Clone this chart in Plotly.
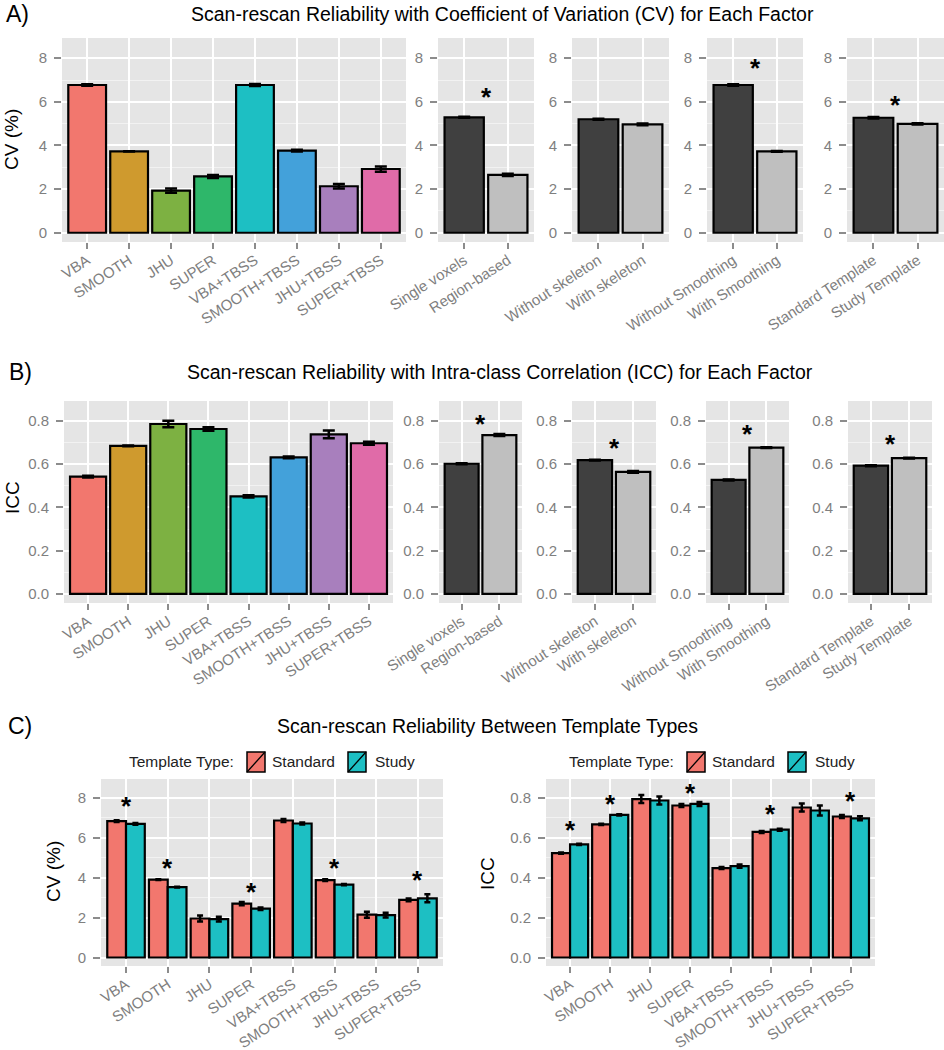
import plotly.graph_objects as go

# ---------------- data ----------------
methods = ["VBA", "SMOOTH", "JHU", "SUPER", "VBA+TBSS", "SMOOTH+TBSS", "JHU+TBSS", "SUPER+TBSS"]
method_colors = ["#F2776E", "#CF9A2E", "#7DB142", "#2EB76A", "#1DBFC3", "#43A1DA", "#A87FBD", "#E06BA8"]

factor_names = [["Single voxels", "Region-based"],
                ["Without skeleton", "With skeleton"],
                ["Without Smoothing", "With Smoothing"],
                ["Standard Template", "Study Template"]]
factor_colors = ["#404040", "#BFBFBF"]

# Panel A: CV (%) per method / factor
cv_method = [6.77, 3.73, 1.93, 2.58, 6.77, 3.76, 2.13, 2.92]
cv_method_err = [0.03, 0.01, 0.10, 0.07, 0.05, 0.04, 0.10, 0.12]
cv_factor = [[5.29, 2.65], [5.20, 4.97], [6.77, 3.73], [5.27, 4.99]]
cv_factor_err = [[0.02, 0.05], [0.02, 0.04], [0.03, 0.02], [0.03, 0.03]]
cv_factor_sig = [6.39, None, 7.74, 6.05]

# Panel B: ICC per method / factor
icc_method = [0.542, 0.685, 0.786, 0.763, 0.451, 0.632, 0.738, 0.697]
icc_method_err = [0.004, 0.002, 0.015, 0.008, 0.005, 0.004, 0.018, 0.007]
icc_factor = [[0.602, 0.735], [0.619, 0.564], [0.527, 0.677], [0.593, 0.628]]
icc_factor_err = [[0.002, 0.005], [0.002, 0.004], [0.002, 0.002], [0.002, 0.002]]
icc_factor_sig = [0.805, 0.694, 0.760, 0.714]

# Panel C: template types
template_types = ["Standard", "Study"]
template_colors = ["#F2776E", "#1DBFC3"]
cv_std = [6.82, 3.89, 1.95, 2.69, 6.85, 3.87, 2.14, 2.88]
cv_std_err = [0.04, 0.02, 0.15, 0.08, 0.08, 0.04, 0.15, 0.07]
cv_study = [6.68, 3.52, 1.92, 2.44, 6.70, 3.64, 2.12, 2.96]
cv_study_err = [0.04, 0.02, 0.12, 0.06, 0.05, 0.03, 0.12, 0.20]
cv_tmpl_sig = [7.78, 4.68, None, 3.48, None, 4.68, None, 4.09]

icc_std = [0.522, 0.666, 0.792, 0.760, 0.447, 0.628, 0.750, 0.705]
icc_std_err = [0.003, 0.003, 0.020, 0.008, 0.005, 0.005, 0.020, 0.008]
icc_study = [0.566, 0.713, 0.785, 0.768, 0.457, 0.639, 0.735, 0.696]
icc_study_err = [0.003, 0.003, 0.020, 0.010, 0.008, 0.005, 0.025, 0.010]
icc_tmpl_sig = [0.660, 0.790, None, 0.843, None, 0.736, None, 0.805]

titles = ["Scan-rescan Reliability with Coefficient of Variation (CV) for Each Factor",
          "Scan-rescan Reliability with Intra-class Correlation (ICC) for Each Factor",
          "Scan-rescan Reliability Between Template Types"]

# ---------------- layout helpers ----------------
W, H = 944, 1050
FONT = "Liberation Sans, Arial, Helvetica, sans-serif"
TICK_GREY = "#7F7F7F"
PANEL_BG = "#E5E5E5"


def fx(px):
    return px / W


def fy(py):
    return 1 - py / H


def xdom(a, b):
    return [fx(a), min(fx(b), 1.0)]


def ydom(top, bottom):
    return [fy(bottom), fy(top)]


def yaxis_style(kind, dom, anchor):
    if kind == "cv":
        d = dict(range=[-0.425, 8.925], tickvals=[0, 2, 4, 6, 8], tickformat="d",
                 minor=dict(tickmode="linear", tick0=0, dtick=1, showgrid=True,
                            gridcolor="#F2F2F2", gridwidth=1))
    else:
        d = dict(range=[-0.0425, 0.8925], tickvals=[0, 0.2, 0.4, 0.6, 0.8], tickformat=".1f",
                 minor=dict(tickmode="linear", tick0=0, dtick=0.1, showgrid=True,
                            gridcolor="#F2F2F2", gridwidth=1))
    d.update(domain=dom, anchor=anchor, showgrid=True, gridcolor="white", gridwidth=2.2,
             zeroline=False, showline=False, ticks="outside", ticklen=7, tickwidth=2,
             tickcolor="#8C8C8C", tickfont=dict(size=15, color=TICK_GREY, family=FONT),
             ticklabelstandoff=4, automargin=False, fixedrange=True)
    return d


def xaxis_style(cats, dom, anchor):
    return dict(type="category", categoryorder="array", categoryarray=cats,
                range=[-0.6, len(cats) - 0.4], domain=dom, anchor=anchor,
                showgrid=True, gridcolor="white", gridwidth=2.2, zeroline=False,
                showline=False, ticks="outside", ticklen=6, tickwidth=2,
                tickcolor="#8C8C8C", tickangle=-33, automargin=False,
                ticklabelstandoff=-3,
                tickfont=dict(size=15, color=TICK_GREY, family=FONT), fixedrange=True)


fig = go.Figure()
layout = dict(width=W, height=H, margin=dict(l=0, r=0, t=0, b=0, pad=0, autoexpand=False),
              paper_bgcolor="white", plot_bgcolor=PANEL_BG, showlegend=False,
              barmode="group", bargap=0.1, bargroupgap=0.0,
              font=dict(family=FONT, color="black"))
annotations = []
shapes = []


def key(n):
    return "" if n == 1 else str(n)


def add_bar(names, values, errs, colors, axn, width_err=6, name=None):
    fig.add_trace(go.Bar(
        x=names, y=values, name=name,
        marker=dict(color=colors, line=dict(color="black", width=2.2)),
        error_y=dict(type="data", array=errs, color="black", thickness=2.5, width=width_err),
        xaxis="x" + key(axn), yaxis="y" + key(axn),
        hoverinfo="x+y"))


def add_star(x, y, axn):
    annotations.append(dict(
        x=x, y=y, xref="x" + key(axn), yref="y" + key(axn),
        text="<b>*</b>", showarrow=False, xanchor="center", yanchor="middle",
        yshift=-4, font=dict(size=26, color="black", family=FONT)))


# ---------------- Panel A ----------------
A_x = [(62, 406), (438, 534), (572, 669), (707, 803), (847, 944)]
A_y = (38, 242)
add_bar(methods, cv_method, cv_method_err, method_colors, 1)
layout["xaxis"] = xaxis_style(methods, xdom(*A_x[0]), "y")
layout["yaxis"] = yaxis_style("cv", ydom(*A_y), "x")
for i in range(4):
    n = i + 2
    add_bar(factor_names[i], cv_factor[i], cv_factor_err[i], factor_colors, n)
    layout["xaxis" + key(n)] = xaxis_style(factor_names[i], xdom(*A_x[i + 1]), "y" + key(n))
    layout["yaxis" + key(n)] = yaxis_style("cv", ydom(*A_y), "x" + key(n))
    if cv_factor_sig[i] is not None:
        add_star(0.5, cv_factor_sig[i], n)

# ---------------- Panel B ----------------
B_x = [(64, 393), (439, 522), (572, 656), (706, 789), (848, 932)]
B_y = (401, 603)
add_bar(methods, icc_method, icc_method_err, method_colors, 6)
layout["xaxis6"] = xaxis_style(methods, xdom(*B_x[0]), "y6")
layout["yaxis6"] = yaxis_style("icc", ydom(*B_y), "x6")
for i in range(4):
    n = i + 7
    add_bar(factor_names[i], icc_factor[i], icc_factor_err[i], factor_colors, n)
    layout["xaxis" + key(n)] = xaxis_style(factor_names[i], xdom(*B_x[i + 1]), "y" + key(n))
    layout["yaxis" + key(n)] = yaxis_style("icc", ydom(*B_y), "x" + key(n))
    if icc_factor_sig[i] is not None:
        add_star(0.5, icc_factor_sig[i], n)

# ---------------- Panel C ----------------
C_x = [(101, 443), (546, 875)]
C_y = (779, 966)
c_sets = [("cv", cv_std, cv_std_err, cv_study, cv_study_err, cv_tmpl_sig),
          ("icc", icc_std, icc_std_err, icc_study, icc_study_err, icc_tmpl_sig)]
for j, (kind, s, se, t, te, sig) in enumerate(c_sets):
    n = 11 + j
    add_bar(methods, s, se, [template_colors[0]] * len(methods), n, width_err=3, name=template_types[0])
    add_bar(methods, t, te, [template_colors[1]] * len(methods), n, width_err=3, name=template_types[1])
    layout["xaxis" + key(n)] = xaxis_style(methods, xdom(*C_x[j]), "y" + key(n))
    layout["yaxis" + key(n)] = yaxis_style(kind, ydom(*C_y), "x" + key(n))
    for k, v in enumerate(sig):
        if v is not None:
            add_star(k, v, n)

# manual legends for panel C (ggplot-style keys with diagonal)
for x0 in (127, 567):
    ycen = 761
    annotations.append(dict(x=fx(x0), y=fy(ycen), xref="paper", yref="paper",
                            text="Template Type:", showarrow=False, xanchor="left",
                            yanchor="middle", font=dict(size=15.5, color="#222222", family=FONT)))
    for k, (bx, tx) in enumerate([(120, 143), (221, 246)]):
        bx0, bx1 = x0 + bx, x0 + bx + 18
        by0, by1 = 752, 772
        shapes.append(dict(type="rect", xref="paper", yref="paper",
                           x0=fx(bx0), x1=fx(bx1), y0=fy(by1), y1=fy(by0),
                           fillcolor=template_colors[k], line=dict(color="black", width=1.5)))
        shapes.append(dict(type="line", xref="paper", yref="paper",
                           x0=fx(bx0), x1=fx(bx1), y0=fy(by1), y1=fy(by0),
                           line=dict(color="black", width=1.3)))
        annotations.append(dict(x=fx(x0 + tx), y=fy(ycen), xref="paper", yref="paper",
                                text=template_types[k], showarrow=False, xanchor="left",
                                yanchor="middle", font=dict(size=15.5, color="#222222", family=FONT)))

# ---------------- titles and labels ----------------
for lab, (lx, ly) in zip(["A)", "B)", "C)"], [(4, 14), (7, 372), (6, 726)]):
    annotations.append(dict(x=fx(lx), y=fy(ly), xref="paper", yref="paper", text=lab,
                            showarrow=False, xanchor="left", yanchor="middle",
                            font=dict(size=23, color="black", family=FONT)))
for t, (tx, ty) in zip(titles, [(503, 14), (500, 372), (488, 726)]):
    annotations.append(dict(x=fx(tx), y=fy(ty), xref="paper", yref="paper", text=t,
                            showarrow=False, xanchor="center", yanchor="middle",
                            font=dict(size=19.5, color="black", family=FONT)))
for t, (tx, ty) in zip(["CV (%)", "ICC", "CV (%)", "ICC"],
                       [(12, 140), (12, 498), (53, 872), (487, 874)]):
    annotations.append(dict(x=fx(tx), y=fy(ty), xref="paper", yref="paper", text=t,
                            showarrow=False, xanchor="center", yanchor="middle", textangle=-90,
                            font=dict(size=19, color="black", family=FONT)))

layout["annotations"] = annotations
layout["shapes"] = shapes
fig.update_layout(**layout)
fig.write_html("out.html", config={"displayModeBar": False},
               post_script="document.body.style.margin='0px';document.body.style.overflow='hidden';")
